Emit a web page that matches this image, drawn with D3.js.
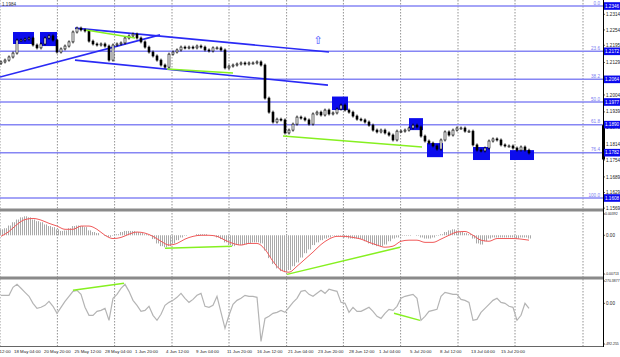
<!DOCTYPE html>
<html><head><meta charset="utf-8">
<script src="https://cdn.jsdelivr.net/npm/d3@7"></script>
<style>body{margin:0;background:#fff;overflow:hidden}svg{display:block}text{font-family:"Liberation Sans",Arial,sans-serif}</style>
</head><body><svg id="c" width="620" height="357"></svg>
<script>
// ---------- DATA ----------
const closes=[
1.2131,1.2138,1.2150,1.2165,1.2215,1.2215,1.2219,1.2223,1.2196,1.2185,
1.2200,1.2223,1.2231,1.2215,1.2169,1.2181,1.2192,1.2208,1.2246,1.2261,
1.2254,1.2250,1.2211,1.2200,1.2196,1.2200,1.2192,1.2138,1.2196,1.2200,
1.2204,1.2223,1.2231,1.2238,1.2223,1.2208,1.2188,1.2169,1.2154,1.2138,
1.2119,1.2111,1.2161,1.2169,1.2177,1.2188,1.2185,1.2188,1.2185,1.2192,
1.2188,1.2177,1.2173,1.2185,1.2185,1.2177,1.2108,1.2115,1.2119,1.2123,
1.2127,1.2123,1.2127,1.2127,1.2131,1.2119,1.1992,1.1938,1.1900,1.1911,
1.1908,1.1858,1.1869,1.1892,1.1919,1.1915,1.1908,1.1892,1.1931,1.1938,
1.1927,1.1946,1.1931,1.1935,1.1950,1.1965,1.1946,1.1938,1.1923,1.1911,
1.1908,1.1900,1.1888,1.1869,1.1862,1.1869,1.1858,1.1850,1.1831,1.1865,
1.1865,1.1869,1.1877,1.1888,1.1881,1.1846,1.1827,1.1819,1.1808,1.1796,
1.1831,1.1862,1.1850,1.1869,1.1877,1.1877,1.1865,1.1865,1.1812,1.1792,
1.1789,1.1800,1.1827,1.1835,1.1831,1.1812,1.1808,1.1808,1.1800,1.1792,
1.1804,1.1792,1.1781];
const firstOpen=1.2125;

const macdHist=[
0.0011,0.0013,0.0018,0.0024,0.0029,0.0033,0.0035,0.0033,0.0029,0.0026,
0.0024,0.0020,0.0017,0.0015,0.0011,0.0008,0.0009,0.0013,0.0017,0.0018,
0.0017,0.0015,0.0009,0.0006,0.0004,0.0000,-0.0001,-0.0003,-0.0001,0.0002,
0.0006,0.0008,0.0008,0.0008,0.0006,0.0004,0.0002,-0.0001,-0.0007,-0.0015,
-0.0020,-0.0022,-0.0020,-0.0015,-0.0009,-0.0004,-0.0001,0.0000,0.0000,0.0002,
0.0002,0.0002,0.0000,-0.0001,-0.0004,-0.0007,-0.0013,-0.0018,-0.0020,-0.0018,
-0.0018,-0.0017,-0.0015,-0.0013,-0.0013,-0.0015,-0.0028,-0.0042,-0.0053,-0.0061,
-0.0066,-0.0068,-0.0064,-0.0057,-0.0050,-0.0041,-0.0033,-0.0026,-0.0018,-0.0013,
-0.0009,-0.0006,-0.0004,-0.0001,-0.0001,-0.0001,-0.0004,-0.0006,-0.0006,-0.0006,
-0.0007,-0.0011,-0.0015,-0.0018,-0.0020,-0.0020,-0.0017,-0.0011,-0.0006,-0.0004,
-0.0001,-0.0001,-0.0001,0.0000,-0.0001,-0.0004,-0.0006,-0.0006,-0.0004,-0.0001,
0.0002,0.0006,0.0009,0.0011,0.0009,0.0006,0.0004,0.0002,-0.0006,-0.0015,
-0.0017,-0.0011,-0.0006,-0.0004,-0.0004,-0.0004,-0.0004,-0.0004,-0.0004,-0.0006,
-0.0004,-0.0004,-0.0006];

// signal line, one value every second bar
const macdSignal=[
-0.0002,0.0007,0.0020,0.0029,0.0031,0.0028,0.0022,0.0017,0.0011,0.0011,
0.0017,0.0017,0.0011,0.0000,-0.0006,-0.0004,0.0002,0.0006,0.0004,-0.0002,
-0.0011,-0.0018,-0.0015,-0.0007,-0.0002,0.0000,0.0000,-0.0002,-0.0009,-0.0015,
-0.0018,-0.0015,-0.0015,-0.0026,-0.0048,-0.0064,-0.0068,-0.0057,-0.0044,-0.0031,
-0.0017,-0.0007,-0.0002,-0.0002,-0.0004,-0.0007,-0.0013,-0.0018,-0.0022,-0.0020,
-0.0011,-0.0009,-0.0009,-0.0013,-0.0013,-0.0007,0.0000,0.0006,0.0007,0.0000,
-0.0009,-0.0011,-0.0006,-0.0006,-0.0006,-0.0007,-0.0009];

const cci=[
97,97,97,194,230,182,133,85,0,-61,
-48,-24,24,-36,-121,-48,24,85,145,157,
109,-48,-145,-145,-97,-85,-61,-206,61,109,
182,230,145,36,-24,-97,-85,-36,-145,-206,
-133,-24,12,36,73,121,61,12,48,97,
121,-36,-48,-24,85,-109,-302,-145,-12,36,
61,97,85,85,73,-460,-182,-157,-121,-109,
-85,-109,-48,12,61,145,157,109,85,121,
157,121,170,157,145,12,0,-109,-48,-97,
-97,-73,-48,-97,-157,-182,-121,-73,-85,-36,
61,85,97,109,61,-206,-157,-97,-85,-73,
85,133,121,109,109,48,36,12,-206,-194,
-109,-61,-12,36,61,12,0,-36,-48,-206,
-145,0,-61];

const fibLevels=[0,23.6,38.2,50,61.8,76.4,100];
const fibHigh=1.2346, fibLow=1.1608;
const priceTicks=[1.2314,1.2254,1.2195,1.2129,1.2004,1.1939,1.1879,1.1814,1.1754,1.1689,1.1629,1.1569];
const macdTicks=[{v:0.00392,t:"0.00392"},{v:0,t:"0.00"},{v:-0.00713,t:"-0.00713"}];
const cciTicks=[{v:270.3877,t:"270.3877"},{v:0,t:"0.00"},{v:-492.255,t:"-492.255"}];

const timeLabels=["13 May 12:00","18 May 04:00","20 May 20:00","25 May 12:00","28 May 04:00","1 Jun 20:00","4 Jun 12:00","9 Jun 04:00","11 Jun 20:00","16 Jun 12:00","21 Jun 04:00","23 Jun 20:00","28 Jun 12:00","1 Jul 04:00","5 Jul 20:00","8 Jul 12:00","13 Jul 04:00","15 Jul 20:00"];
const timeLabelPos=[-4.25,3.25,10.75,18.4,26,33.5,41.25,48.75,56.5,64,71.75,79.25,87,94.5,102.25,109.75,117.5,125];
const gridPos=[-0.25,14.1,28.4,42.75,57,71.4,85.6,99.9,114.25,128.5,145.5];

// chart objects (bar index, price)
const boxes=[[3,8.25,1.2246,1.2200],[9.75,14,1.2246,1.2192],[82.75,86.75,1.1998,1.1946],[102,105.5,1.1915,1.1869],[106.5,110.5,1.1819,1.1765],[118,122.25,1.1804,1.1754],[127.25,133.25,1.1792,1.1754]];
const blueLines=[[-0.25,1.2073,39.75,1.2235],[18.5,1.2261,82,1.2169],[18.5,1.2138,81.75,1.2042]];
const greenLines=[[21.25,1.2254,33.5,1.2223],[41.5,1.2104,58,1.2088],[70.5,1.1846,105.25,1.1804]];
const macdGreen=[[41,-0.0024,57.75,-0.0020],[71.5,-0.0072,99.75,-0.0022]];
const cciGreen=[[18,157,30.75,242],[98.25,-121,104.75,-206]];
const arrowAt=[79.25,1.2211];

// ---------- DRAW ----------
const svg=d3.select("#c");
const x=d3.scaleLinear().domain([0,132]).range([1,529]);
const yP=d3.scaleLinear().domain([fibHigh,fibLow]).range([6,198]);
const yM=d3.scaleLinear().domain([0.00392,-0.00713]).range([214,274]);
const yC=d3.scaleLinear().domain([270.3877,-492.255]).range([281,344]);
const AX=603, FS=4.6;

const defs=svg.append("defs");
const pat=defs.append("pattern").attr("id","hatch").attr("patternUnits","userSpaceOnUse").attr("width",2).attr("height",4);
pat.append("rect").attr("x",0).attr("y",0).attr("width",1).attr("height",4).attr("fill","#a9a9a9");
defs.append("clipPath").attr("id","clipMain").append("rect").attr("x",0).attr("y",0).attr("width",AX).attr("height",208);

// vertical dotted grid
svg.append("g").selectAll("line").data(gridPos).join("line")
 .attr("x1",d=>x(d)).attr("x2",d=>x(d)).attr("y1",0).attr("y2",346)
 .attr("stroke","#777").attr("stroke-width",0.8).attr("stroke-dasharray","1.5,1.5");

// panel separators
[208.5,276.5].forEach(yy=>{
 svg.append("rect").attr("x",0).attr("y",yy).attr("width",AX).attr("height",3).attr("fill","#8a8a8a");
});
svg.append("line").attr("x1",0).attr("x2",AX).attr("y1",346.5).attr("y2",346.5).attr("stroke","#666").attr("stroke-width",1);

const gm=svg.append("g").attr("clip-path","url(#clipMain)");

// fibonacci levels
const fibPrice=l=>fibHigh-(fibHigh-fibLow)*l/100;
gm.selectAll("line.fib").data(fibLevels).join("line").attr("class","fib")
 .attr("x1",0).attr("x2",AX).attr("y1",d=>yP(fibPrice(d))).attr("y2",d=>yP(fibPrice(d)))
 .attr("stroke","#8686f4").attr("stroke-width",1.5);
svg.selectAll("text.fibl").data(fibLevels).join("text").attr("class","fibl")
 .attr("x",600).attr("y",d=>yP(fibPrice(d))-1.5).attr("text-anchor","end")
 .attr("font-size",FS).attr("fill","#7a7af0").text(d=>d.toFixed(1));

// boxes
gm.selectAll("rect.box").data(boxes).join("rect").attr("class","box")
 .attr("x",d=>x(d[0])).attr("width",d=>x(d[1])-x(d[0]))
 .attr("y",d=>yP(d[2])).attr("height",d=>yP(d[3])-yP(d[2]))
 .attr("fill","#0c0ced");

// trend lines
gm.selectAll("line.bl").data(blueLines).join("line").attr("class","bl")
 .attr("x1",d=>x(d[0])).attr("y1",d=>yP(d[1])).attr("x2",d=>x(d[2])).attr("y2",d=>yP(d[3]))
 .attr("stroke","#2a2af5").attr("stroke-width",1.6);

// candles
const candles=closes.map((c,i)=>({i,o:i?closes[i-1]:firstOpen,c}));
const cg=gm.append("g");
cg.selectAll("line.w").data(candles).join("line").attr("class","w")
 .attr("x1",d=>x(d.i)).attr("x2",d=>x(d.i))
 .attr("y1",d=>yP(Math.max(d.o,d.c))-1.5).attr("y2",d=>yP(Math.min(d.o,d.c))+1.5)
 .attr("stroke","#000").attr("stroke-width",0.9);
cg.selectAll("rect.b").data(candles).join("rect").attr("class","b")
 .attr("x",d=>x(d.i)-1).attr("width",2)
 .attr("y",d=>yP(Math.max(d.o,d.c))).attr("height",d=>Math.max(1,Math.abs(yP(d.o)-yP(d.c))))
 .attr("fill",d=>d.c>=d.o?"#fff":"#000").attr("stroke","#000").attr("stroke-width",0.6);

// green lines
gm.selectAll("line.gl").data(greenLines).join("line").attr("class","gl")
 .attr("x1",d=>x(d[0])).attr("y1",d=>yP(d[1])).attr("x2",d=>x(d[2])).attr("y2",d=>yP(d[3]))
 .attr("stroke","#86f020").attr("stroke-width",1.5);

// arrow
svg.append("text").attr("x",x(arrowAt[0])).attr("y",yP(arrowAt[1])).attr("text-anchor","middle")
 .attr("dominant-baseline","middle").attr("font-size",11).attr("fill","#4646ff")
 .style("font-family","DejaVu Sans").text("⇧");

// top-left label
svg.append("text").attr("x",2).attr("y",6).attr("font-size",FS).attr("fill","#333").text("1.1984");

// MACD
svg.append("g").selectAll("rect").data(macdHist).join("rect")
 .attr("x",(d,i)=>x(i)-2).attr("width",4)
 .attr("y",d=>Math.min(yM(d),yM(0))).attr("height",d=>Math.abs(yM(d)-yM(0)))
 .attr("fill","url(#hatch)");
svg.append("path").datum(macdSignal)
 .attr("d",d3.line().x((d,i)=>x(i*2)).y(d=>yM(d)).curve(d3.curveMonotoneX))
 .attr("fill","none").attr("stroke","#f05a5a").attr("stroke-width",1);
svg.selectAll("line.mg").data(macdGreen).join("line").attr("class","mg")
 .attr("x1",d=>x(d[0])).attr("y1",d=>yM(d[1])).attr("x2",d=>x(d[2])).attr("y2",d=>yM(d[3]))
 .attr("stroke","#86f020").attr("stroke-width",1.5);

// CCI
svg.append("path").datum(cci)
 .attr("d",d3.line().x((d,i)=>x(i)).y(d=>yC(d)))
 .attr("fill","none").attr("stroke","#b4b4b4").attr("stroke-width",1.2);
svg.selectAll("line.cg").data(cciGreen).join("line").attr("class","cg")
 .attr("x1",d=>x(d[0])).attr("y1",d=>yC(d[1])).attr("x2",d=>x(d[2])).attr("y2",d=>yC(d[3]))
 .attr("stroke","#86f020").attr("stroke-width",1.5);

// right axis
svg.append("rect").attr("x",AX).attr("y",0).attr("width",620-AX).attr("height",357).attr("fill","#fff");
svg.append("line").attr("x1",AX+0.5).attr("x2",AX+0.5).attr("y1",0).attr("y2",347).attr("stroke","#000").attr("stroke-width",1);
svg.append("rect").attr("x",AX-1).attr("y",yP(1.1888)).attr("width",3).attr("height",yP(1.1756)-yP(1.1888)).attr("fill","#000");

const tickG=svg.append("g").attr("font-size",FS).attr("fill","#222");
function ticks(arr,sc,fmt){
 arr.forEach(t=>{
  const v=typeof t==="number"?t:t.v, s=typeof t==="number"?fmt(t):t.t;
  tickG.append("line").attr("x1",AX).attr("x2",AX+2).attr("y1",sc(v)).attr("y2",sc(v)).attr("stroke","#000").attr("stroke-width",0.6);
  const long=s.length>6;
  tickG.append("text").attr("x",AX+(long?2:3)).attr("y",sc(v)).attr("dy","0.35em")
   .attr("font-size",long?3.5:FS).text(s);
 });
}
ticks(priceTicks,yP,d=>d.toFixed(4));
ticks(macdTicks,yM);
ticks(cciTicks,yC);

// fib price boxes
const fb=svg.append("g").selectAll("g").data(fibLevels).join("g");
fb.append("rect").attr("x",AX+1).attr("width",16).attr("y",d=>yP(fibPrice(d))-3.8).attr("height",7.6).attr("fill","#0a0aee");
fb.append("text").attr("x",AX+2).attr("y",d=>yP(fibPrice(d))).attr("dy","0.35em").attr("font-size",FS).attr("fill","#fff").text(d=>fibPrice(d).toFixed(4));

// time labels
svg.append("g").selectAll("text").data(timeLabels).join("text")
 .attr("x",(d,i)=>x(timeLabelPos[i])).attr("y",353).attr("font-size",4.4).attr("fill","#222").text(d=>d);
</script></body></html>
